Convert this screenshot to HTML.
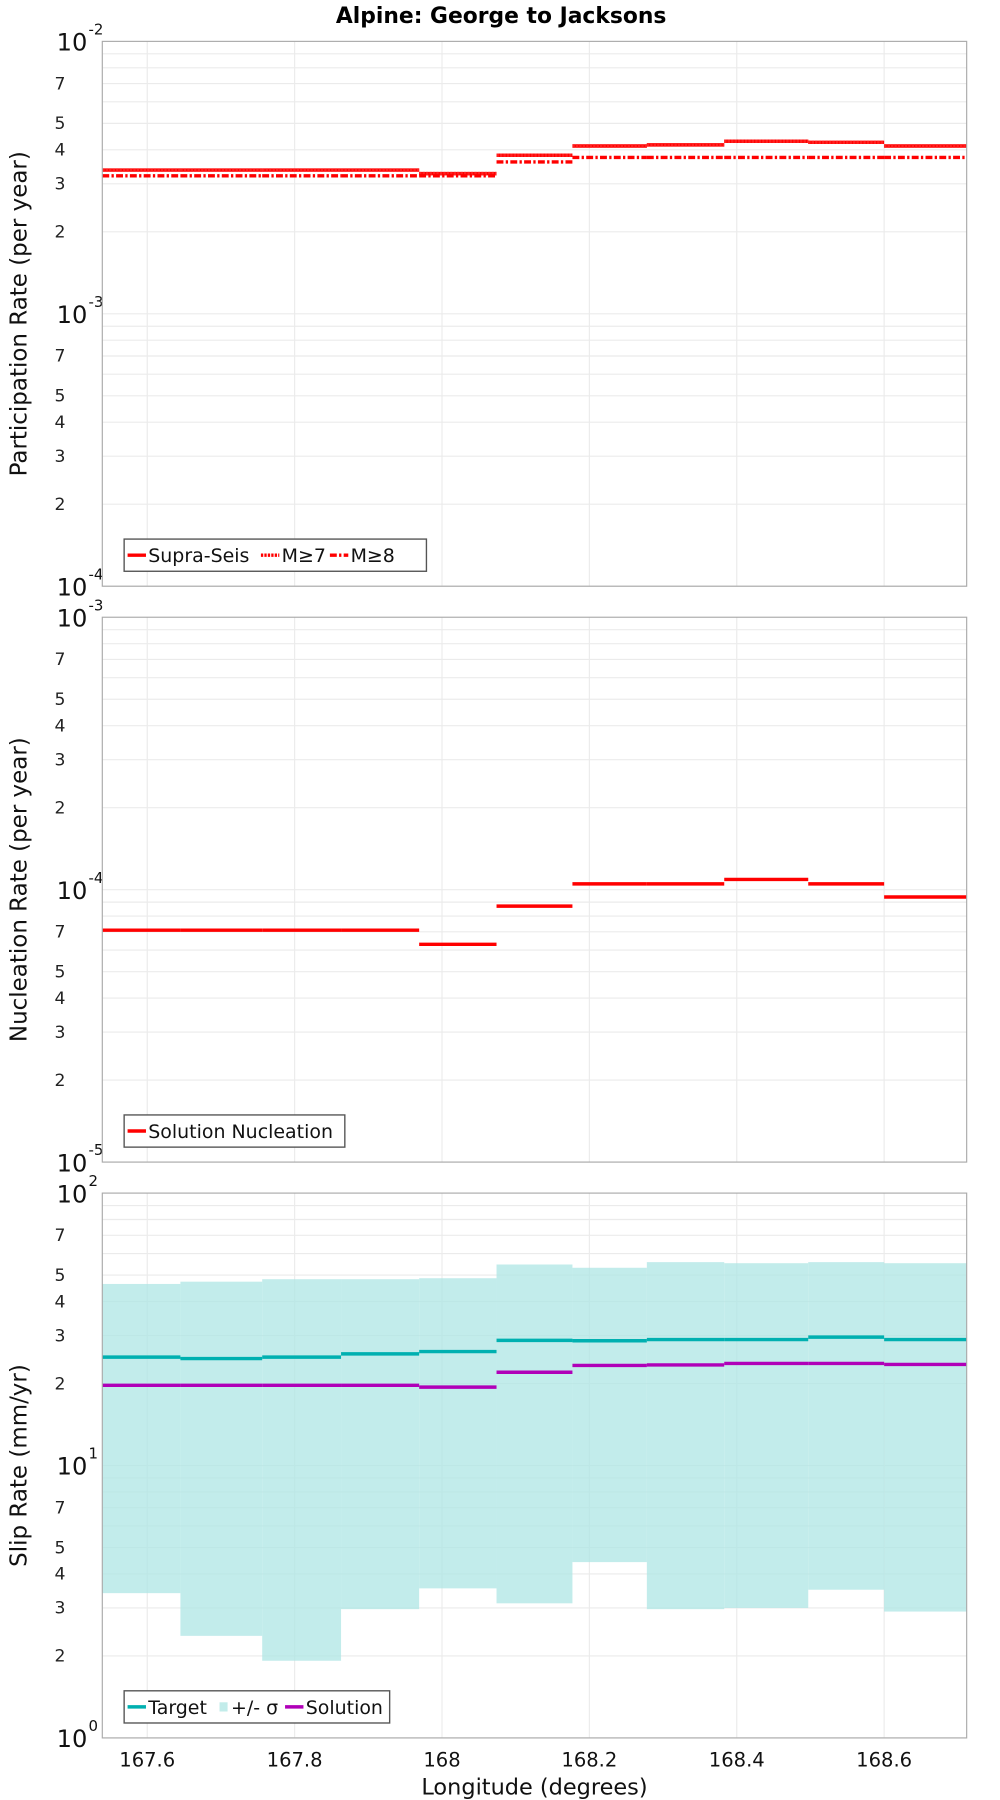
<!DOCTYPE html>
<html><head><meta charset="utf-8"><style>
html,body{margin:0;padding:0;background:#fff;}
svg{display:block;font-family:"DejaVu Sans","Liberation Sans",sans-serif;}
</style></head><body>
<svg id="chart" width="1000" height="1800" viewBox="0 0 870 1566" xmlns="http://www.w3.org/2000/svg">
<text x="436" y="20" text-anchor="middle" font-size="19" font-weight="bold">Alpine: George to Jacksons</text>
<g id="root"></g>
</svg>
<script>
// Data
const binEdges = [167.539,167.645,167.756,167.863,167.969,168.074,168.177,168.278,168.383,168.497,168.600,168.712];
const xTicks = [167.6,167.8,168.0,168.2,168.4,168.6];
const xTickLabels = ["167.6","167.8","168","168.2","168.4","168.6"];
const supraSeis = [3.37e-3,3.37e-3,3.37e-3,3.37e-3,3.27e-3,3.82e-3,4.13e-3,4.17e-3,4.30e-3,4.26e-3,4.13e-3];
const m7 = [3.37e-3,3.37e-3,3.37e-3,3.37e-3,3.27e-3,3.82e-3,4.13e-3,4.17e-3,4.30e-3,4.26e-3,4.13e-3];
const m8 = [3.21e-3,3.21e-3,3.21e-3,3.21e-3,3.21e-3,3.61e-3,3.75e-3,3.75e-3,3.75e-3,3.75e-3,3.75e-3];
const nucleation = [7.1e-5,7.1e-5,7.1e-5,7.1e-5,6.3e-5,8.7e-5,1.05e-4,1.05e-4,1.09e-4,1.05e-4,9.4e-5];
const target = [25.0,24.7,25.0,25.7,26.2,28.8,28.7,29.0,29.0,29.6,29.0];
const solution = [19.7,19.7,19.7,19.7,19.4,22.0,23.3,23.4,23.7,23.7,23.5];
const sigmaUpper = [46.4,47.3,48.3,48.3,48.7,54.7,53.2,55.8,55.3,55.8,55.3];
const sigmaLower = [3.40,2.37,1.92,2.97,3.54,3.12,4.42,2.97,3.0,3.5,2.91];

const NS="http://www.w3.org/2000/svg";
const root=document.getElementById('root');
const L=89,R=841,xMin=167.539,xMax=168.712;
function xs(v){return L+(v-xMin)/(xMax-xMin)*(R-L);}
function mk(tag,attrs,parent){const e=document.createElementNS(NS,tag);for(const k in attrs)e.setAttribute(k,attrs[k]);(parent||root).appendChild(e);return e;}

function panel(top,bot,expTop,expBot,ylabel,key){
  const ys=v=>top+(expTop-Math.log10(v))/(expTop-expBot)*(bot-top);
  const g=mk('g',{});
  
  
  for(let e=expBot;e<expTop;e++){
    for(let m=1;m<10;m++){
      const y=ys(m*Math.pow(10,e));
      const gl=mk('line',{x1:L,x2:R,y1:y,y2:y,stroke:'#ebebeb','stroke-width':1},g);
      
      
      if(m===7||m===5||m===4||m===3||m===2){
        const t=mk('text',{x:57,y:y+5,'text-anchor':'end','font-size':15,fill:'#222'},g);
        
        
        t.textContent=String(m);
      }
    }
  }
  for(let e=expBot;e<=expTop;e++){
    const y=ys(Math.pow(10,e));
    const t=mk('text',{x:76,y:y+8,'text-anchor':'end','font-size':21,fill:'#111'},g);
    
    
    t.textContent='10';
    const s=mk('text',{x:77,y:y-6,'text-anchor':'start','font-size':13,fill:'#111'},g);
    
    
    s.textContent=String(e);
  }
  xTicks.forEach(v=>{
    const gl=mk('line',{x1:xs(v),x2:xs(v),y1:top,y2:bot,stroke:'#ebebeb','stroke-width':1},g);
    
    
  });
  const yl=mk('text',{x:0,y:0,transform:`translate(23,${(top+bot)/2}) rotate(-90)`,'text-anchor':'middle','font-size':20,fill:'#111'},g);
  
  
  yl.textContent=ylabel;
  return {g,ys};
}
function steps(g,ys,vals,color,dash,name){
  vals.forEach((v,i)=>{
    const ln=mk('line',{x1:xs(binEdges[i]),x2:xs(binEdges[i+1]),y1:ys(v),y2:ys(v),stroke:color,'stroke-width':3},g);
    if(dash)ln.setAttribute('stroke-dasharray',dash);
    
    
  });
}
function frame(g,top,bot){
  const f=mk('rect',{x:L,y:top,width:R-L,height:bot-top,fill:'none',stroke:'#aaa','stroke-width':1},g);
  
  
}
function legend(g,x,y,w,items){
  const lg=mk('g',{},g);
  
  
  const b=mk('rect',{x:x,y:y,width:w,height:28,fill:'#fff',stroke:'#555','stroke-width':1.2},lg);
  
  
  let cx=x+3;
  items.forEach(it=>{
    const en=mk('g',{},lg);
    
    
    if(it.box){mk('rect',{x:cx+2,y:y+10,width:7,height:8,fill:it.color},en);cx+=12;}
    else{const s=mk('line',{x1:cx,x2:cx+16,y1:y+14,y2:y+14,stroke:it.color,'stroke-width':3},en);if(it.dash)s.setAttribute('stroke-dasharray',it.dash);cx+=18;}
    const t=mk('text',{x:cx,y:y+20,'font-size':16.5,fill:'#111'},en);
    t.textContent=it.label;
    cx+=it.w;
  });
}
{const p=panel(36,510,-2,-4,'Participation Rate (per year)','participation');
 steps(p.g,p.ys,supraSeis,'#ff0000',null,'supra-seis');
 steps(p.g,p.ys,m7,'#ff2020','2,1','m7');
 steps(p.g,p.ys,m8,'#ff0000','6,2,2,2','m8');
 frame(p.g,36,510);
 legend(p.g,108,469,263,[{label:'Supra-Seis',color:'#f00',w:98},{label:'M≥7',color:'#f00',dash:'2,1',w:42},{label:'M≥8',color:'#f00',dash:'6,2,2,2',w:40}]);}
{const p=panel(537,1011,-3,-5,'Nucleation Rate (per year)','nucleation');
 steps(p.g,p.ys,nucleation,'#ff0000',null,'nucleation');
 frame(p.g,537,1011);
 legend(p.g,108,970,192,[{label:'Solution Nucleation',color:'#f00',w:170}]);}
{const p=panel(1038,1512,2,0,'Slip Rate (mm/yr)','slip');
 sigmaUpper.forEach((u,i)=>{
   const r=mk('rect',{x:xs(binEdges[i]),y:p.ys(u),width:xs(binEdges[i+1])-xs(binEdges[i]),height:p.ys(sigmaLower[i])-p.ys(u),fill:'#aee6e4','fill-opacity':0.75},p.g);
   
   
 });
 steps(p.g,p.ys,target,'#00b0b0',null,'target');
 steps(p.g,p.ys,solution,'#b000b8',null,'solution');
 frame(p.g,1038,1512);
 legend(p.g,108,1471,231,[{label:'Target',color:'#00b0b0',w:60},{label:'+/- σ',color:'#c2ecea',box:true,w:47},{label:'Solution',color:'#b000b8',w:80}]);
 xTicks.forEach((v,i)=>{
   const t=mk('text',{x:xs(v),y:1537,'text-anchor':'middle','font-size':17,fill:'#111'});
   
   
   t.textContent=xTickLabels[i];
 });
 const xl=mk('text',{x:465,y:1561,'text-anchor':'middle','font-size':19.5,fill:'#111'});
 
 
 xl.textContent='Longitude (degrees)';}
</script>
</body></html>
